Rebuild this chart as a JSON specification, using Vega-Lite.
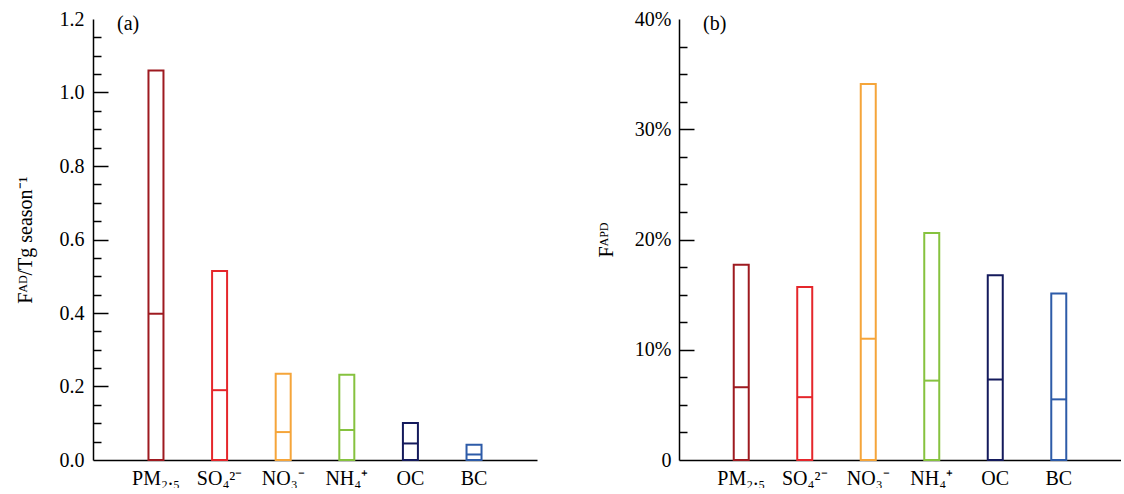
{
  "$schema": "https://vega.github.io/schema/vega-lite/v6.json",
  "background": "white",
  "padding": {"left": 15, "top": 9, "right": 0, "bottom": 0},
  "config": {
    "view": {"stroke": null},
    "font": "Liberation Serif",
    "axis": {
      "domainColor": "black",
      "domainWidth": 1.5,
      "labelColor": "black",
      "labelFont": "Liberation Serif",
      "labelFontSize": 20,
      "titleFont": "Liberation Serif",
      "titleFontSize": 20,
      "titleFontWeight": "normal",
      "titleColor": "black",
      "tickColor": "black",
      "tickWidth": 1.5,
      "grid": false
    }
  },
  "datasets": {
    "ad": [
      {"species": "PM₂.₅", "total": 1.06, "mid": 0.398},
      {"species": "SO₄²⁻", "total": 0.514, "mid": 0.19},
      {"species": "NO₃⁻", "total": 0.235, "mid": 0.076},
      {"species": "NH₄⁺", "total": 0.232, "mid": 0.0815},
      {"species": "OC", "total": 0.1005, "mid": 0.045},
      {"species": "BC", "total": 0.0416, "mid": 0.015}
    ],
    "apd": [
      {"species": "PM₂.₅", "total": 0.177, "mid": 0.066},
      {"species": "SO₄²⁻", "total": 0.157, "mid": 0.057},
      {"species": "NO₃⁻", "total": 0.341, "mid": 0.11},
      {"species": "NH₄⁺", "total": 0.206, "mid": 0.072},
      {"species": "OC", "total": 0.1676, "mid": 0.073},
      {"species": "BC", "total": 0.151, "mid": 0.055}
    ]
  },
  "spacing": 59,
  "hconcat": [
    {
      "width": 444,
      "height": 441,
      "data": {"name": "ad"},
      "title": {"text": "(a)", "anchor": "start", "frame": "group", "offset": -25, "dx": 24, "fontSize": 20, "fontWeight": "normal", "font": "Liberation Serif", "color": "black"},
      "resolve": {"axis": {"y": "independent"}},
      "encoding": {
        "x": {
          "field": "species", "type": "nominal", "sort": null,
          "scale": {"paddingInner": 0, "paddingOuter": 0.49},
          "axis": {"title": null, "ticks": false, "labelAngle": 0, "labelPadding": 8, "labelBaseline": "top"}
        },
        "color": {
          "field": "species", "type": "nominal", "sort": null,
          "scale": {"domain": ["PM₂.₅", "SO₄²⁻", "NO₃⁻", "NH₄⁺", "OC", "BC"], "range": ["#9e1a20", "#e5262b", "#f5a53a", "#86c23f", "#141a5c", "#2d5ba8"]},
          "legend": null
        }
      },
      "layer": [
        {
          "mark": {"type": "bar", "filled": false, "strokeWidth": 2, "width": 15},
          "encoding": {
            "y": {
              "field": "total", "type": "quantitative",
              "scale": {"domain": [0, 1.2]},
              "axis": {
                "orient": "left",
                "title": "Fᴬᴰ/Tg season⁻¹",
                "values": [0, 0.2, 0.4, 0.6, 0.8, 1.0, 1.2],
                "format": ".1f",
                "ticks": false,
                "labelPadding": 9,
                "titlePadding": 24
              }
            }
          }
        },
        {
          "mark": {"type": "tick", "thickness": 2, "size": 15, "opacity": 1},
          "encoding": {
            "y": {
              "field": "mid", "type": "quantitative",
              "axis": {
                "orient": "left",
                "title": null,
                "values": [0.2, 0.4, 0.6, 0.8, 1.0],
                "labels": false,
                "domain": false,
                "ticks": true,
                "tickSize": 15,
                "offset": -15
              }
            }
          }
        },
        {
          "mark": {"type": "tick", "opacity": 0},
          "encoding": {
            "y": {
              "field": "total", "type": "quantitative",
              "axis": {
                "orient": "left",
                "title": null,
                "values": [0.05, 0.1, 0.15, 0.25, 0.3, 0.35, 0.45, 0.5, 0.55, 0.65, 0.7, 0.75, 0.85, 0.9, 0.95, 1.05, 1.1, 1.15],
                "labels": false,
                "domain": false,
                "ticks": true,
                "tickSize": 8,
                "offset": -8
              }
            }
          }
        }
      ]
    },
    {
      "width": 442,
      "height": 441,
      "data": {"name": "apd"},
      "title": {"text": "(b)", "anchor": "start", "frame": "group", "offset": -25, "dx": 24, "fontSize": 20, "fontWeight": "normal", "font": "Liberation Serif", "color": "black"},
      "resolve": {"axis": {"y": "independent"}},
      "encoding": {
        "x": {
          "field": "species", "type": "nominal", "sort": null,
          "scale": {"paddingInner": 0, "paddingOuter": 0.48},
          "axis": {"title": null, "ticks": false, "labelAngle": 0, "labelPadding": 8, "labelBaseline": "top"}
        },
        "color": {
          "field": "species", "type": "nominal", "sort": null,
          "scale": {"domain": ["PM₂.₅", "SO₄²⁻", "NO₃⁻", "NH₄⁺", "OC", "BC"], "range": ["#9e1a20", "#e5262b", "#f5a53a", "#86c23f", "#141a5c", "#2d5ba8"]},
          "legend": null
        }
      },
      "layer": [
        {
          "mark": {"type": "bar", "filled": false, "strokeWidth": 2, "width": 15},
          "encoding": {
            "y": {
              "field": "total", "type": "quantitative",
              "scale": {"domain": [0, 0.4]},
              "axis": {
                "orient": "left",
                "title": "Fᴬᴾᴰ",
                "values": [0, 0.1, 0.2, 0.3, 0.4],
                "labelExpr": "datum.value == 0 ? '0' : format(datum.value, '.0%')",
                "ticks": false,
                "labelPadding": 8,
                "titlePadding": 18
              }
            }
          }
        },
        {
          "mark": {"type": "tick", "thickness": 2, "size": 15, "opacity": 1},
          "encoding": {
            "y": {
              "field": "mid", "type": "quantitative",
              "axis": {
                "orient": "left",
                "title": null,
                "values": [0.1, 0.2, 0.3],
                "labels": false,
                "domain": false,
                "ticks": true,
                "tickSize": 15,
                "offset": -15
              }
            }
          }
        },
        {
          "mark": {"type": "tick", "opacity": 0},
          "encoding": {
            "y": {
              "field": "total", "type": "quantitative",
              "axis": {
                "orient": "left",
                "title": null,
                "values": [0.025, 0.05, 0.075, 0.125, 0.15, 0.175, 0.225, 0.25, 0.275, 0.325, 0.35, 0.375],
                "labels": false,
                "domain": false,
                "ticks": true,
                "tickSize": 8,
                "offset": -8
              }
            }
          }
        }
      ]
    }
  ]
}
